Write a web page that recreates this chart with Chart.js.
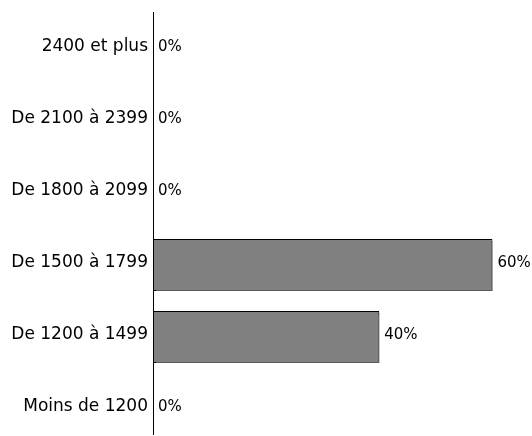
<!DOCTYPE html>
<html>
<head>
<meta charset="utf-8">
<script src="https://cdn.jsdelivr.net/npm/chart.js@4"></script>
<style>
	html, body { margin: 0; padding: 0; background: #fff; overflow: hidden; }
	canvas { display: block; }
</style>
</head>
<body>
<canvas id="incomeChart" width="532" height="446"></canvas>
<script>
var categories = [
	'2400 et plus',
	'De 2100 à 2399',
	'De 1800 à 2099',
	'De 1500 à 1799',
	'De 1200 à 1499',
	'Moins de 1200',
];
var shares = [0, 0, 0, 60, 40, 0];

var FONT = '"DejaVu Sans", sans-serif';

// thin vertical axis line, a bit shorter than the plot area
var axisLine = {
	id: 'axisLine',
	afterDraw: function (chart) {
		var ctx = chart.ctx;
		var x = chart.chartArea.left + 0.5;
		ctx.save();
		ctx.strokeStyle = '#000';
		ctx.lineWidth = 1;
		ctx.beginPath();
		ctx.moveTo(x, 12);
		ctx.lineTo(x, 435);
		ctx.stroke();
		ctx.restore();
	},
};

// small offset shadow under the bars
var barShadow = {
	id: 'barShadow',
	beforeDatasetsDraw: function (chart) {
		var ctx = chart.ctx;
		ctx.save();
		ctx.shadowColor = '#5a5a5a';
		ctx.shadowOffsetX = 2;
		ctx.shadowOffsetY = 2;
		ctx.shadowBlur = 0;
	},
	afterDatasetsDraw: function (chart) {
		chart.ctx.restore();
	},
};

// value labels at the end of each bar
var valueLabels = {
	id: 'valueLabels',
	afterDatasetsDraw: function (chart) {
		var ctx = chart.ctx;
		var meta = chart.getDatasetMeta(0);
		ctx.save();
		ctx.font = '15px ' + FONT;
		ctx.fillStyle = '#000';
		ctx.textBaseline = 'middle';
		ctx.textAlign = 'left';
		meta.data.forEach(function (bar, i) {
			var v = chart.data.datasets[0].data[i];
			ctx.fillText(v + '%', bar.x + 5, bar.y - 2);
		});
		ctx.restore();
	},
};

var incomeChart = new Chart(document.getElementById('incomeChart'), {
	type: 'bar',
	data: {
		labels: categories,
		datasets: [
			{
				data: shares,
				backgroundColor: '#808080',
				borderColor: '#000',
				borderWidth: 1,
				borderSkipped: false,
				barPercentage: 0.72,
				categoryPercentage: 1,
			},
		],
	},
	options: {
		indexAxis: 'y',
		responsive: false,
		animation: false,
		layout: {
			padding: { top: 13, right: 0, bottom: 1, left: 0 },
		},
		plugins: {
			legend: { display: false },
			tooltip: { enabled: false },
		},
		scales: {
			x: {
				display: false,
				min: 0,
				max: 67,
			},
			y: {
				afterFit: function (scale) {
					scale.width = 153;
					scale.paddingTop = 0;
					scale.paddingBottom = 0;
				},
				grid: { display: false, drawTicks: false },
				border: { display: false },
				ticks: {
					color: '#000',
					padding: 5,
					labelOffset: -2,
					font: { family: FONT, size: 17 },
				},
			},
		},
	},
	plugins: [barShadow, valueLabels, axisLine],
});
</script>
</body>
</html>
